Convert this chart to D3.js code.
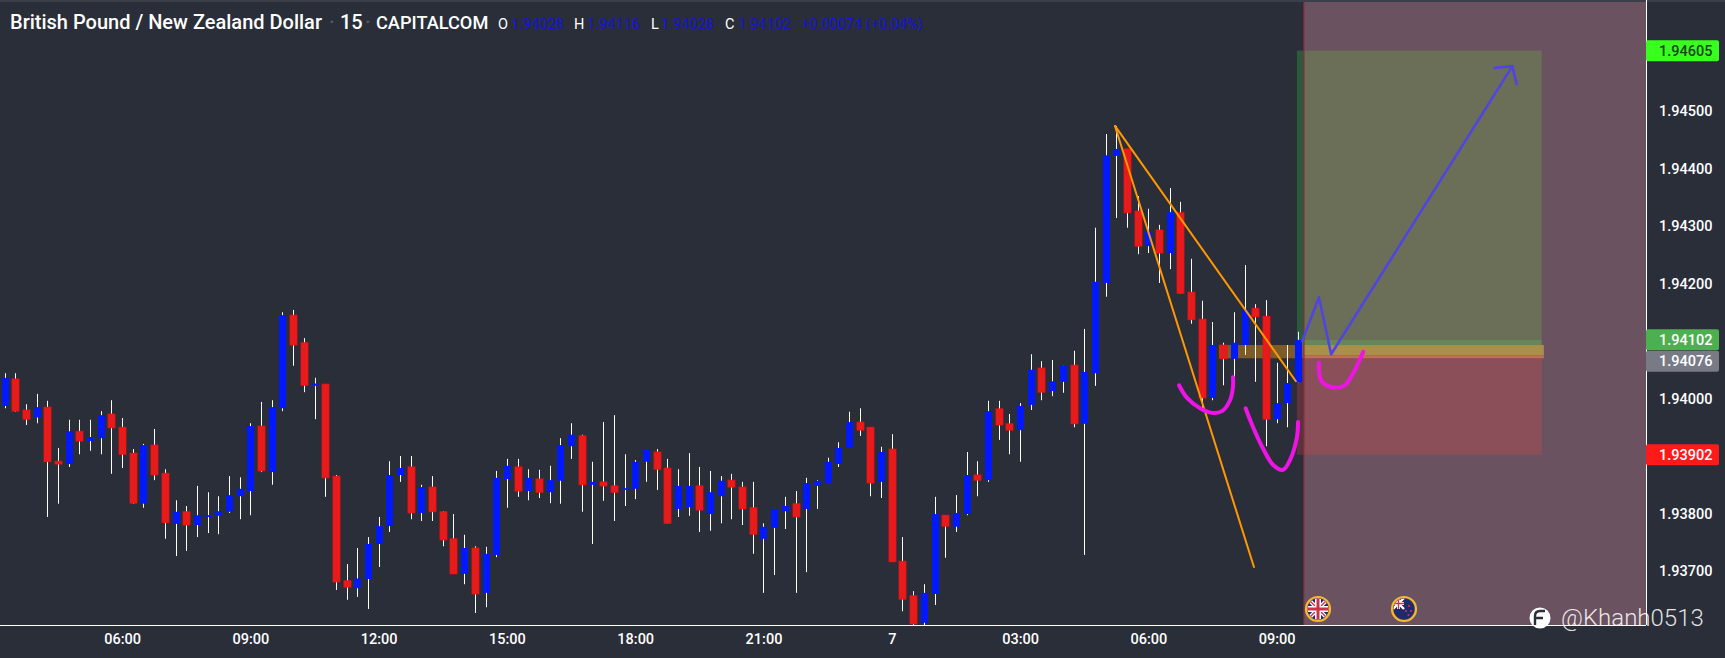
<!DOCTYPE html>
<html>
<head>
<meta charset="utf-8">
<script src="https://d3js.org/d3.v7.min.js"></script>
<style>
html, body { margin: 0; padding: 0; background: #2a2e39; overflow: hidden; }
text { font-family: Roboto, sans-serif; }
</style>
</head>
<body>
<script>
// 15 minute bars
var opens = [1.93987,1.94034,1.93980,1.93967,1.93985,1.93891,1.93886,1.93943,1.93926,1.93931,1.93973,1.93950,1.93905,1.93817,1.93919,1.93870,1.93782,1.93803,1.93780,1.93794,1.93796,1.93803,1.93830,1.93839,1.93952,1.93872,
1.93983,1.94145,1.94097,1.94022,1.94025,1.93865,1.93683,1.93670,1.93686,1.93747,1.93778,1.93867,1.93881,1.93801,1.93846,1.93803,1.93756,1.93695,1.93740,1.93662,1.93728,1.93860,1.93881,1.93839,1.93860,1.93837,
1.93857,1.93917,1.93935,1.93850,1.93855,1.93848,1.93841,1.93843,1.93890,1.93907,1.93879,1.93808,1.93811,1.93848,1.93799,1.93830,1.93858,1.93846,1.93810,1.93756,1.93775,1.93804,1.93817,1.93808,1.93848,1.93853,
1.93886,1.93914,1.93959,1.93950,1.93855,1.93912,1.93717,1.93657,1.93610,1.93660,1.93797,1.93777,1.93799,1.93867,1.93858,1.93982,1.93956,1.93945,1.93989,1.94053,1.94013,1.94029,1.94058,1.93956,1.94044,1.94201,
1.94422,1.94434,1.94326,1.94265,1.94293,1.94253,1.94323,1.94185,1.94138,1.94001,1.94093,1.94069,1.94093,1.94157,1.94143,1.93964,1.93992,1.94028];
var highs = [1.94044,1.94044,1.93990,1.94008,1.93996,1.93914,1.93963,1.93963,1.93963,1.93978,1.93997,1.93966,1.93912,1.93921,1.93947,1.93877,1.93823,1.93813,1.93848,1.93837,1.93830,1.93865,1.93863,1.93957,1.93994,1.93997,
1.94150,1.94154,1.94105,1.94036,1.94025,1.93867,1.93712,1.93740,1.93759,1.93794,1.93891,1.93900,1.93900,1.93850,1.93865,1.93804,1.93799,1.93763,1.93743,1.93742,1.93874,1.93895,1.93895,1.93877,1.93876,1.93883,
1.93931,1.93957,1.93937,1.93890,1.93959,1.93971,1.93903,1.93893,1.93912,1.93912,1.93895,1.93877,1.93905,1.93881,1.93874,1.93865,1.93869,1.93855,1.93855,1.93783,1.93808,1.93829,1.93839,1.93862,1.93858,1.93897,
1.93924,1.93977,1.93983,1.93950,1.93916,1.93938,1.93759,1.93665,1.93677,1.93829,1.93797,1.93832,1.93907,1.93891,1.93996,1.93996,1.93973,1.93992,1.94077,1.94065,1.94067,1.94058,1.94083,1.94121,1.94297,1.94460,
1.94474,1.94434,1.94352,1.94330,1.94302,1.94366,1.94342,1.94243,1.94170,1.94133,1.94097,1.94150,1.94232,1.94164,1.94171,1.94062,1.94093,1.94116];
var lows = [1.93983,1.93977,1.93954,1.93957,1.93794,1.93817,1.93881,1.93903,1.93909,1.93903,1.93869,1.93879,1.93817,1.93810,1.93858,1.93756,1.93726,1.93735,1.93759,1.93766,1.93764,1.93801,1.93790,1.93797,1.93872,1.93850,
1.93978,1.94057,1.94011,1.93964,1.93829,1.93667,1.93650,1.93655,1.93634,1.93707,1.93768,1.93855,1.93790,1.93787,1.93787,1.93743,1.93695,1.93677,1.93627,1.93637,1.93724,1.93810,1.93829,1.93823,1.93827,1.93818,
1.93817,1.93895,1.93803,1.93747,1.93822,1.93787,1.93813,1.93825,1.93855,1.93841,1.93783,1.93794,1.93796,1.93768,1.93770,1.93783,1.93790,1.93780,1.93730,1.93662,1.93693,1.93773,1.93662,1.93698,1.93808,1.93853,
1.93881,1.93914,1.93935,1.93830,1.93827,1.93716,1.93630,1.93600,1.93600,1.93641,1.93723,1.93768,1.93797,1.93830,1.93855,1.93928,1.93903,1.93890,1.93980,1.93997,1.94004,1.94010,1.93950,1.93728,1.94022,1.94177,
1.94314,1.94297,1.94251,1.94253,1.94201,1.94225,1.94182,1.94130,1.93980,1.93997,1.94023,1.94034,1.94076,1.94029,1.93917,1.93957,1.93950,1.94028];
var closes = [1.94036,1.93978,1.93964,1.93985,1.93890,1.93886,1.93943,1.93926,1.93933,1.93971,1.93949,1.93903,1.93818,1.93919,1.93867,1.93784,1.93803,1.93780,1.93797,1.93797,1.93804,1.93832,1.93843,1.93952,1.93874,1.93985,
1.94145,1.94093,1.94023,1.94026,1.93862,1.93681,1.93672,1.93687,1.93747,1.93778,1.93867,1.93879,1.93801,1.93846,1.93803,1.93754,1.93695,1.93740,1.93660,1.93730,1.93862,1.93883,1.93839,1.93862,1.93837,1.93858,
1.93919,1.93937,1.93850,1.93855,1.93848,1.93837,1.93844,1.93890,1.93912,1.93877,1.93783,1.93848,1.93848,1.93806,1.93837,1.93857,1.93846,1.93808,1.93764,1.93777,1.93808,1.93813,1.93794,1.93853,1.93857,1.93890,
1.93914,1.93959,1.93945,1.93853,1.93907,1.93716,1.93651,1.93608,1.93662,1.93799,1.93778,1.93801,1.93867,1.93858,1.93978,1.93954,1.93945,1.93987,1.94050,1.94011,1.94030,1.94058,1.93956,1.94046,1.94203,1.94423,
1.94434,1.94323,1.94265,1.94291,1.94253,1.94324,1.94183,1.94137,1.94001,1.94093,1.94069,1.94097,1.94154,1.94142,1.93964,1.93992,1.94027,1.94102];

var timeTicks = [11,23,35,47,59,71,83,95,107,119];
var timeLabels = ["06:00","09:00","12:00","15:00","18:00","21:00","7","03:00","06:00","09:00"];
var priceTicks = [1.945,1.944,1.943,1.942,1.94,1.938,1.937];

// drawings on the chart, as [bar, price]
var wedgeUpper = [[103.88,1.94474],[120.8,1.94030]];
var wedgeLower = [[103.88,1.94474],[116.88,1.93707]];
var brushOne = [[109.87,1.94023],[110.62,1.94001],[111.84,1.93983],[112.96,1.93975],[113.89,1.93978],[114.64,1.93997],[114.92,1.94020],[114.92,1.94037]];
var brushTwo = [[116.1,1.93983],[116.8,1.93950],[117.7,1.93914],[118.7,1.93884],[119.6,1.93876],[120.25,1.93893],[120.9,1.93933],[121,1.93959]];
var brushThree = [[122.96,1.94062],[123.15,1.94032],[124.1,1.94020],[125.3,1.94022],[126.1,1.94042],[127.1,1.94081]];
var forecast = [[121.4,1.94100],[122.96,1.94176],[124.1,1.94077],[141.05,1.94578]];
var arrowHead = [[139.4,1.94575],[141.05,1.94578],[141.45,1.94547]];

var target = 1.94605, stop = 1.93902, last = 1.94102, entry = 1.94076;

var width = 1725, height = 658, axisX = 1646, axisY = 625;
var x = d3.scaleLinear().domain([0,121]).range([4.5,1298]);
var y = d3.scaleLinear().domain([1.937,1.945]).range([571,111]);

var svg = d3.select("body").append("svg").attr("width",width).attr("height",height).style("display","block");
svg.append("rect").attr("width",width).attr("height",height).attr("fill","#2a2e39");
svg.append("rect").attr("width",width).attr("height",2).attr("fill","#3b3f4b");
svg.append("clipPath").attr("id","plot").append("rect").attr("width",axisX).attr("height",axisY);

var plot = svg.append("g").attr("clip-path","url(#plot)");

// pink session block, then the long position boxes
var zones = plot.append("g");
function zone(x0,x1,p0,p1,col){
  zones.append("rect").attr("x",x0).attr("width",x1-x0)
    .attr("y",y(p0)).attr("height",y(p1)-y(p0)).attr("fill",col);
}
var bandX = x(121.56), boxL = x(120.9), boxR = x(143.8), goldL = x(113.6), goldR = x(144);
zones.append("rect").attr("x",bandX).attr("y",2).attr("width",axisX-bandX).attr("height",axisY-2).attr("fill","#6b5260");
zone(boxL,bandX,target,1.94102,"#2d5a3b");
zone(bandX,boxR,target,1.94102,"#6b6f58");
zone(boxL,bandX,1.94102,1.94093,"#4a7a48");
zone(bandX,boxR,1.94102,1.94093,"#67875a");
zone(boxL,bandX,1.94070,stop,"#5a333c");
zone(bandX,boxR,1.94070,stop,"#8b4f5a");
zone(goldL,bandX,1.94093,1.94070,"#7c5d2a");
zone(bandX,goldR,1.94093,1.94075,"#a98f4a");
zone(bandX,goldR,1.94075,1.94070,"#c0704f");
zones.append("line").attr("x1",bandX).attr("x2",bandX).attr("y1",2).attr("y2",axisY)
  .attr("stroke","#8b2f3d").attr("stroke-width",1.2);

// candles
var bars = d3.range(opens.length);
plot.append("g").selectAll("line").data(bars).join("line")
  .attr("x1",function(i){ return Math.round(x(i))+0.5; })
  .attr("x2",function(i){ return Math.round(x(i))+0.5; })
  .attr("y1",function(i){ return y(highs[i]); })
  .attr("y2",function(i){ return y(lows[i]); })
  .attr("stroke","#fff").attr("stroke-width",1);
plot.append("g").selectAll("rect").data(bars).join("rect")
  .attr("x",function(i){ return Math.round(x(i))-3; })
  .attr("width",7)
  .attr("y",function(i){ return y(Math.max(opens[i],closes[i])); })
  .attr("height",function(i){ return Math.max(1.5,Math.abs(y(opens[i])-y(closes[i]))); })
  .attr("fill",function(i){ return closes[i]>=opens[i] ? "#0019ff" : "#e61c1c"; })
  .attr("stroke",function(i){ return closes[i]>=opens[i] ? "none" : "#f80d0d"; })
  .attr("stroke-width",0.8);

// drawings
var line = d3.line().x(function(d){ return x(d[0]); }).y(function(d){ return y(d[1]); });
var brushLine = d3.line().curve(d3.curveCatmullRom).x(function(d){ return x(d[0]); }).y(function(d){ return y(d[1]); });
function draw(g,pts,col,w,gen){
  g.append("path").attr("d",(gen||line)(pts)).attr("fill","none")
    .attr("stroke",col).attr("stroke-width",w)
    .attr("stroke-linecap","round").attr("stroke-linejoin","round");
}
draw(plot,wedgeUpper,"#ff9800",2);
draw(plot,wedgeLower,"#ff9800",2);
draw(plot,brushOne,"#ef14e6",4,brushLine);
draw(plot,brushTwo,"#ef14e6",4,brushLine);
draw(plot,brushThree,"#ef14e6",4,brushLine);
draw(plot,forecast,"#5045e0",2.6);
draw(plot,arrowHead,"#5045e0",2.6);

// news flags on the pink block
function flag(cx,cy,kind){
  var g = svg.append("g").attr("transform","translate("+cx+","+cy+")");
  var id = "flag"+kind;
  g.append("clipPath").attr("id",id).append("circle").attr("r",10.5);
  var f = g.append("g").attr("clip-path","url(#"+id+")");
  f.append("rect").attr("x",-11).attr("y",-11).attr("width",22).attr("height",22).attr("fill","#1f2a6b");
  if(kind=="uk"){
    f.append("path").attr("d","M-11,-11L11,11M11,-11L-11,11").attr("stroke","#fff").attr("stroke-width",4);
    f.append("path").attr("d","M-11,-11L11,11M11,-11L-11,11").attr("stroke","#d0314a").attr("stroke-width",1.4);
    f.append("path").attr("d","M0,-11V11M-11,0H11").attr("stroke","#fff").attr("stroke-width",6);
    f.append("path").attr("d","M0,-11V11M-11,0H11").attr("stroke","#d0314a").attr("stroke-width",3);
  } else {
    f.append("path").attr("d","M-11,-11L0,0M0,-11L-11,0").attr("stroke","#fff").attr("stroke-width",2.4);
    f.append("path").attr("d","M-5.5,-11V0M-11,-5.5H0").attr("stroke","#fff").attr("stroke-width",3);
    f.append("path").attr("d","M-5.5,-11V0M-11,-5.5H0").attr("stroke","#d0314a").attr("stroke-width",1.4);
    [[5,-3],[2,2],[7,2],[4.5,6]].forEach(function(s){
      f.append("circle").attr("cx",s[0]).attr("cy",s[1]).attr("r",1.1).attr("fill","#d0314a");
    });
  }
  g.append("circle").attr("r",12).attr("fill","none").attr("stroke","#f5b82e").attr("stroke-width",2.2);
}
flag(1318,609,"uk");
flag(1404,609,"nz");

// axes
var bottom = d3.axisBottom(x).tickValues(timeTicks)
  .tickFormat(function(d,i){ return timeLabels[i]; }).tickSize(0).tickPadding(9);
var gx = svg.append("g").attr("transform","translate(0,"+axisY+")").call(bottom);
gx.select(".domain").remove();
gx.selectAll("text").attr("fill","#fff").style("font","500 14.5px Roboto");

var right = d3.axisRight(y).tickValues(priceTicks).tickFormat(d3.format(".5f")).tickSize(0).tickPadding(13);
var gy = svg.append("g").attr("transform","translate("+axisX+",0)").call(right);
gy.select(".domain").remove();
gy.selectAll("text").attr("fill","#fff").style("font","500 14.5px Roboto");

svg.append("line").attr("x1",0).attr("x2",axisX).attr("y1",axisY+0.5).attr("y2",axisY+0.5).attr("stroke","#fff");
svg.append("line").attr("x1",axisX+0.5).attr("x2",axisX+0.5).attr("y1",0).attr("y2",axisY).attr("stroke","#fff");

// price tags
function tag(price,offset,bg,fg){
  var cy = y(price)+offset;
  svg.append("rect").attr("x",axisX).attr("y",cy-10.5).attr("width",73).attr("height",21).attr("rx",2).attr("fill",bg);
  svg.append("text").attr("x",axisX+13).attr("y",cy+5).attr("fill",fg)
    .style("font","500 14.5px Roboto").text(price.toFixed(5));
}
tag(target,0,"#38ff1e","#17450f");
tag(last,0,"#4caf50","#fff");
tag(entry,6.5,"#787b86","#fff");
tag(stop,0,"#ff1a1a","#fff");

// legend line
function legend(px,txt,col,font){
  svg.append("text").attr("x",px).attr("y",29).attr("fill",col).style("font",font).text(txt);
}
var titleFont = "500 20px Roboto", nameFont = "500 18.2px Roboto", valueFont = "400 14.5px Roboto", dim = "#1414d8";
legend(10,"British Pound / New Zealand Dollar","#fff",titleFont);
legend(329,"\u00b7","#555965",titleFont);
legend(340,"15","#fff",titleFont);
legend(365,"\u00b7","#555965",titleFont);
legend(376,"CAPITALCOM","#fff",nameFont);
legend(498,"O","#fff",valueFont);
legend(511,opens[121].toFixed(5),dim,valueFont);
legend(574,"H","#fff",valueFont);
legend(587,highs[121].toFixed(5),dim,valueFont);
legend(651,"L","#fff",valueFont);
legend(661,lows[121].toFixed(5),dim,valueFont);
legend(725,"C","#fff",valueFont);
legend(738,closes[121].toFixed(5),dim,valueFont);
legend(801,"+0.00074 (+0.04%)",dim,valueFont);

// watermark
svg.append("circle").attr("cx",1540).attr("cy",618).attr("r",10.5).attr("fill","#fff");
svg.append("path").attr("d","M1535,625V616Q1535,611 1540,611H1545M1535,618H1543").attr("fill","none").attr("stroke","#2a2e39").attr("stroke-width",2.4);
svg.append("text").attr("x",1561).attr("y",626).attr("fill","#fff").attr("fill-opacity",0.88)
  .style("font","300 24px Roboto").text("@Khanh0513");
</script>
</body>
</html>
